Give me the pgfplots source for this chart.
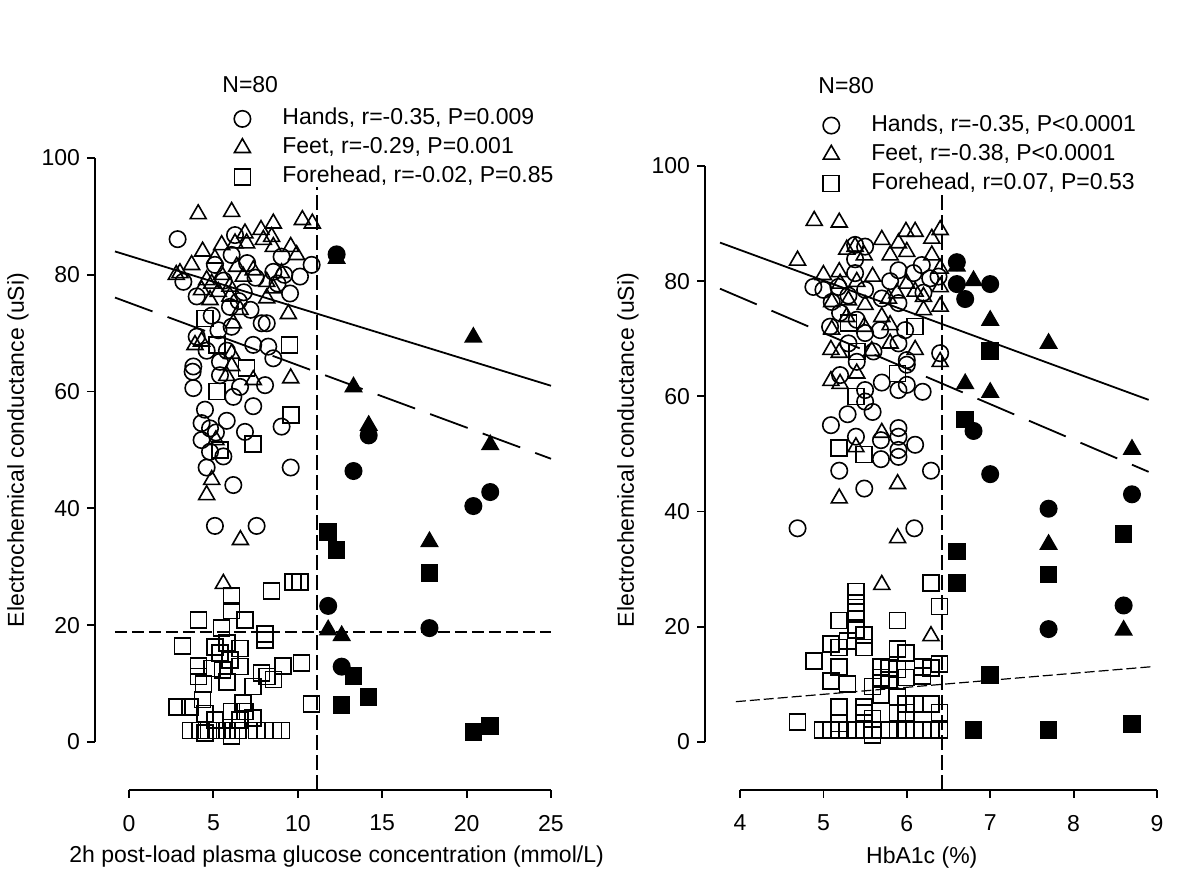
\documentclass[border=0pt]{standalone}
\usepackage{fontspec}
\setmainfont{Liberation Sans}
\usepackage{pgfplots}
\pgfplotsset{compat=1.18}
\newcommand\fs{\fontsize{11.5pt}{13.8pt}\selectfont}
\pgfplotsset{
  panel/.style={
    scale only axis, clip=false,
    axis x line=bottom, axis y line=left,
    axis line style={-, line width=0.9pt, black},
    every tick/.style={line width=0.9pt, black},
    tick align=outside,
    major tick length=4pt,
    axis x line shift=24pt,
    axis y line shift=17pt,
    ymin=0, ymax=100, ytick={0,20,...,100},
    tick label style={font=\fs},
    xticklabel style={yshift=-5pt},
    /pgf/number format/assume math mode=true,
    label style={font=\fs},
    legend cell align=left,
    legend style={draw=none, fill=none, font=\fs, anchor=north west,
      inner xsep=3pt, inner ysep=2pt, row sep=0pt,
      nodes={inner sep=2pt, text height=8.3pt, text depth=2.2pt}},
  },
  lg/.style={legend image code/.code={\path[draw=none,fill=none] (-7pt,-5pt) rectangle (18pt,5pt);
     \draw[mark repeat=2,mark phase=2,##1] plot coordinates {(-1pt,0pt) (0pt,0pt) (1pt,0pt)};}},
  oc/.style={only marks, mark=o, mark size=4.1pt, mark options={line width=0.8pt, draw=black}, lg},
  ot/.style={only marks, mark=triangle, mark size=4.6pt, mark options={line width=0.8pt, draw=black}, lg},
  os/.style={only marks, mark=square, mark size=4pt, mark options={line width=0.8pt, draw=black}, lg},
  fc/.style={only marks, mark=*, mark size=4.1pt, mark options={line width=0.8pt, draw=black, fill=black}},
  ft/.style={only marks, mark=triangle*, mark size=4.6pt, mark options={line width=0.8pt, draw=black, fill=black}},
  fsq/.style={only marks, mark=square*, mark size=4pt, mark options={line width=0.8pt, draw=black, fill=black}},
}
\begin{document}
\begin{tikzpicture}
\path[use as bounding box] (0pt,0pt) rectangle (600pt,441pt);
% ---------------- left panel ----------------
\begin{axis}[panel,
  at={(64.5pt,70pt)}, anchor=south west,
  width=211pt, height=292pt,
  xmin=0, xmax=25, xtick={0,5,...,25},
  xlabel={2h post-load plasma glucose concentration (mmol/L)},
  ylabel={Electrochemical conductance (uSi)},
  xlabel style={at={(axis description cs:0.492,-0.196)}, anchor=center},
  ylabel style={at={(axis description cs:-0.263,0.5)}, anchor=center, rotate=0},
  legend style={at={(axis description cs:0.2204,1.0993)}},
]
\addplot[oc] coordinates {(2.88,86.1) (6.28,86.8) (9.04,83.1) (10.82,81.7) (10.13,79.7) (3.22,78.8) (5.09,81.7) (6.08,83.4) (4.01,76.3) (8.55,80.5) (9.54,76.8) (5.98,74.5) (7.86,71.7) (8.16,71.7) (6.08,71.1) (7.36,68.0) (8.25,67.7) (4.01,69.4) (8.55,65.7) (5.39,65.1) (3.81,64.3) (3.77,63.4) (3.81,60.6) (5.39,62.8) (6.18,59.1) (6.58,60.8) (8.06,61.1) (4.5,56.9) (7.36,57.5) (4.3,54.6) (5.79,55.0) (4.8,53.7) (5.15,53.0) (6.87,53.1) (9.04,54.0) (4.3,51.7) (4.8,49.7) (5.59,48.9) (4.6,47.0) (6.18,44.0) (9.58,47.0) (5.09,37.0) (7.56,37.0) (5.6,79.0) (6.8,77.0) (7.5,79.5) (4.9,73.0) (6.5,75.5) (7.2,74.0) (5.3,70.5) (4.6,67.0) (7.0,82.0) (8.8,78.5) (5.8,67.0) (9.2,80.0)};
\addlegendentry{Hands, r=-0.35, P=0.009}
\addplot[ot] coordinates {(4.1,90.4) (6.08,90.8) (10.27,89.4) (10.86,88.8) (8.55,88.8) (7.82,87.7) (6.87,87.1) (8.45,86.5) (7.96,86.0) (5.49,85.1) (6.28,85.4) (6.97,85.4) (8.55,84.8) (9.58,84.8) (4.36,84.0) (9.93,83.4) (3.71,81.7) (3.02,80.3) (2.8,80.0) (5.09,82.8) (6.38,81.4) (7.36,80.8) (9.04,80.3) (4.6,79.1) (5.49,80.0) (6.77,79.7) (8.16,78.8) (4.3,77.4) (5.29,77.1) (5.98,78.0) (8.55,77.7) (4.9,78.5) (8.16,76.0) (6.58,74.0) (9.44,73.3) (6.18,71.7) (4.8,75.7) (5.98,76.3) (3.91,68.0) (4.3,68.6) (6.08,66.5) (6.08,64.4) (5.79,62.7) (7.36,62.0) (9.58,62.3) (5.15,51.7) (4.9,44.9) (4.6,42.3) (6.6,34.6) (5.59,27.1)};
\addlegendentry{Feet, r=-0.29, P=0.001}
\addplot[os] coordinates {(4.5,72.5) (5.2,68.0) (9.5,68.0) (6.97,64.0) (5.2,60.0) (9.58,56.0) (7.36,51.0) (5.39,50.0) (9.73,27.4) (10.13,27.4) (8.45,25.9) (6.08,25.0) (6.08,22.5) (6.87,20.9) (4.11,20.9) (5.49,19.5) (8.06,18.5) (8.06,17.5) (3.18,16.4) (5.79,16.9) (5.09,16.3) (6.58,16.0) (5.39,15.2) (4.11,13.0) (4.9,12.6) (5.98,14.0) (6.58,12.9) (5.55,12.3) (9.14,13.0) (10.23,13.5) (7.86,11.8) (8.16,11.2) (8.55,10.7) (5.79,10.3) (4.41,9.9) (7.36,9.5) (4.11,11.2) (4.36,7.3) (2.83,6.0) (3.61,6.0) (10.82,6.5) (6.77,6.7) (6.08,5.2) (4.5,4.9) (5.09,3.8) (6.87,5.2) (7.36,4.1) (6.58,3.8) (3.65,2) (4.21,2) (4.7,2) (5.23,2) (5.79,2) (6.47,2) (7.56,2) (8.06,2) (8.55,2) (9.04,2) (6.08,1.0) (4.5,1.5)};
\addlegendentry{Forehead, r=-0.02, P=0.85}
\addplot[fc, forget plot] coordinates {(12.3,83.5) (14.2,52.5) (13.3,46.4) (21.4,42.8) (20.4,40.4) (11.8,23.3) (17.8,19.5) (12.6,12.9)};
\addplot[ft, forget plot] coordinates {(12.3,82.8) (20.4,69.3) (13.3,60.8) (14.2,54.2) (21.4,50.9) (17.8,34.3) (11.8,19.2) (12.6,18.2)};
\addplot[fsq, forget plot] coordinates {(11.8,36.0) (12.3,32.9) (17.8,28.9) (13.3,11.3) (14.2,7.7) (12.6,6.3) (20.4,1.7) (21.4,2.7)};
\addplot[forget plot, no marks, black, line width=0.9pt] coordinates {(-0.83,84.0) (25,61.0)};
\addplot[forget plot, no marks, black, line width=0.9pt, dash pattern=on 20pt off 8pt] coordinates {(-0.83,76.1) (25,48.5)};
\addplot[forget plot, no marks, black, line width=0.9pt, dash pattern=on 6pt off 2.5pt] coordinates {(-0.83,18.9) (25,18.9)};
\addplot[forget plot, no marks, black, line width=0.9pt, dash pattern=on 7.5pt off 2.5pt] coordinates {(11.15,-8.2) (11.15,95)};
\end{axis}
\node[anchor=west, font=\fs, inner sep=0pt] at (111pt,398.5pt) {N=80};
% ---------------- right panel ----------------
\begin{axis}[panel,
  at={(370pt,70pt)}, anchor=south west,
  width=208.5pt, height=288pt,
  axis y line shift=17.5pt,
  xmin=4, xmax=9, xtick={4,5,...,9},
  xlabel={HbA1c (\%)},
  ylabel={Electrochemical conductance (uSi)},
  xlabel style={at={(axis description cs:0.436,-0.201)}, anchor=center},
  ylabel style={at={(axis description cs:-0.269,0.507)}, anchor=center, rotate=0},
  legend style={at={(axis description cs:0.170,1.103)}},
]
\addplot[oc] coordinates {(5.38,86.3) (5.5,86.0) (5.38,83.8) (5.9,81.9) (6.08,81.4) (6.18,82.8) (6.28,80.5) (6.38,80.8) (5.38,81.4) (4.88,79.0) (5.0,78.5) (5.18,79.0) (5.1,76.4) (5.9,76.2) (5.4,73.3) (5.68,71.5) (5.98,71.5) (5.9,69.2) (5.3,69.2) (5.08,72.1) (5.6,67.8) (5.4,66.0) (6.0,66.3) (6.4,67.5) (5.3,77.5) (5.5,78.5) (5.7,77.0) (5.2,74.5) (5.5,71.0) (6.2,78.0) (5.8,80.0) (5.2,63.7) (5.5,61.1) (5.5,59.1) (5.7,62.4) (5.9,61.1) (6.0,62.0) (6.19,60.8) (6.0,65.5) (5.59,57.3) (5.29,56.9) (5.09,55.0) (5.39,53.0) (5.69,52.4) (5.9,54.5) (5.9,53.0) (5.9,50.7) (5.9,49.5) (5.69,49.1) (6.1,51.6) (5.19,47.1) (6.29,47.1) (5.49,44.0) (4.69,37.1) (6.09,37.1)};
\addlegendentry{Hands, r=-0.35, P<0.0001}
\addplot[ot] coordinates {(4.89,90.5) (5.19,90.2) (4.69,83.6) (5.7,87.2) (5.99,88.6) (6.1,88.6) (6.4,88.9) (6.3,87.4) (5.9,86.6) (5.28,85.5) (5.38,86.0) (5.49,84.5) (5.8,84.5) (6.0,85.1) (6.3,84.5) (6.4,82.2) (5.0,81.1) (5.19,81.6) (5.59,80.8) (5.4,79.9) (5.2,79.6) (6.0,79.6) (6.1,78.2) (6.2,77.3) (6.4,79.0) (5.88,77.9) (5.78,77.0) (5.5,75.9) (5.3,76.7) (5.1,76.4) (6.2,75.0) (6.4,75.6) (5.7,73.8) (5.28,73.8) (5.8,72.4) (5.1,71.6) (5.49,72.1) (5.8,69.2) (6.1,68.1) (5.09,68.1) (5.19,67.6) (5.58,67.9) (6.4,66.0) (5.09,62.7) (5.2,62.2) (5.4,64.0) (5.7,53.7) (5.39,51.2) (5.89,44.8) (5.19,42.3) (5.89,35.4) (5.7,27.3) (6.29,18.4)};
\addlegendentry{Feet, r=-0.38, P<0.0001}
\addplot[os] coordinates {(5.3,72.7) (6.1,72.1) (5.4,67.8) (5.89,64.0) (5.39,60.0) (5.19,51.0) (5.49,49.9) (6.29,27.6) (6.39,23.5) (5.39,26.1) (5.39,24.1) (5.39,22.6) (5.19,21.1) (5.89,21.1) (5.39,19.4) (5.49,18.6) (5.49,16.4) (5.29,17.5) (5.09,17.0) (5.19,16.4) (5.89,16.1) (5.99,15.5) (4.89,14.1) (5.19,13.0) (5.69,13.0) (5.79,12.8) (5.89,12.6) (6.19,13.0) (6.39,13.5) (6.29,12.8) (5.09,10.6) (5.29,10.1) (5.69,11.2) (5.79,10.8) (5.99,11.2) (6.19,11.5) (5.59,9.6) (5.69,8.2) (5.89,7.8) (5.19,6.1) (5.49,6.1) (5.99,6.6) (6.09,6.6) (6.29,6.6) (6.39,5.1) (5.89,5.1) (5.99,5.1) (5.49,5.0) (4.69,3.5) (5.59,4.1) (5.19,3.2) (4.99,2.1) (5.09,2.1) (5.19,2.1) (5.29,2.1) (5.39,2.1) (5.49,2.1) (5.59,2.1) (5.79,2.1) (5.89,2.1) (5.99,2.1) (6.09,2.1) (6.19,2.1) (6.29,2.1) (6.39,2.1) (5.59,1.2)};
\addlegendentry{Forehead, r=0.07, P=0.53}
\addplot[fc, forget plot] coordinates {(6.6,83.3) (6.6,79.5) (7.0,79.5) (6.7,76.9) (6.8,54.0) (7.0,46.5) (7.7,40.5) (8.7,43.0) (8.6,23.7) (7.7,19.6)};
\addplot[ft, forget plot] coordinates {(6.6,82.6) (6.8,80.1) (7.0,73.2) (7.7,69.2) (6.7,62.2) (7.0,60.7) (8.7,50.8) (7.7,34.3) (8.6,19.4)};
\addplot[fsq, forget plot] coordinates {(7.0,67.9) (6.7,56.0) (6.6,33.1) (6.6,27.6) (7.7,29.1) (8.6,36.1) (7.0,11.6) (6.8,2.1) (7.7,2.1) (8.7,3.1)};
\addplot[forget plot, no marks, black, line width=0.9pt] coordinates {(3.76,86.7) (8.9,59.4)};
\addplot[forget plot, no marks, black, line width=0.9pt, dash pattern=on 20pt off 8pt] coordinates {(3.76,78.7) (8.9,46.9)};
\addplot[forget plot, no marks, black, line width=0.6pt, dash pattern=on 5pt off 2pt] coordinates {(3.95,7.0) (8.96,13.1)};
\addplot[forget plot, no marks, black, line width=0.9pt, dash pattern=on 7.5pt off 2.5pt] coordinates {(6.425,-8.3) (6.425,95)};
\end{axis}
\node[anchor=west, font=\fs, inner sep=0pt] at (409pt,398pt) {N=80};
\end{tikzpicture}
\end{document}
